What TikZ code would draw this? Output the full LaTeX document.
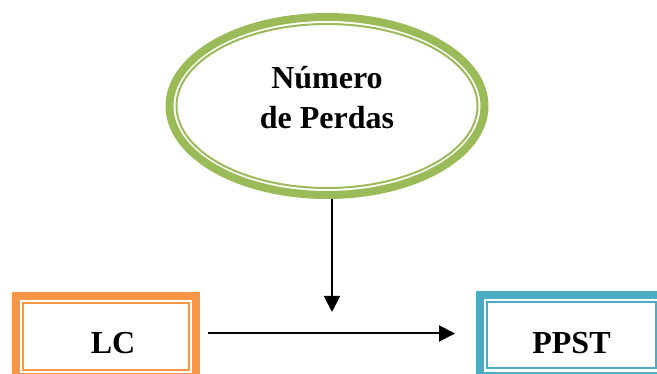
\documentclass[tikz,border=0pt]{standalone}
\usepackage{fontspec}
\setmainfont{Liberation Serif}
\usetikzlibrary{positioning,arrows.meta,shapes.geometric}
\definecolor{perdasgreen}{HTML}{9BBB59}
\definecolor{lcorange}{HTML}{F79646}
\definecolor{ppstblue}{HTML}{4BACC6}

\begin{document}
\begin{tikzpicture}[
      x=1pt,y=-1pt,
      txt/.style={font=\bfseries\fontsize{32}{40}\selectfont,align=center},
      oval/.style={ellipse,draw=perdasgreen,line width=8pt,inner sep=0pt,outer sep=0pt,minimum width=315pt,minimum height=178pt},
      box/.style={rectangle,line width=7.5pt,inner sep=0pt,outer sep=0pt,text height=34pt,text depth=0pt},
      inframe/.style={line width=2pt},
      arr/.style={-{Triangle[length=16pt,width=16pt]},line width=2pt,draw=black}
    ]
    \useasboundingbox (0,0) rectangle (657,374);
    \clip (0,0) rectangle (657,374);

    \node[oval,txt,text depth=17pt] (perdas) at (327,106) {Número\\de Perdas};
    \draw[perdasgreen,inframe] (perdas.center) ellipse [x radius=150.5pt,y radius=82pt];

    \node[box,txt,draw=lcorange,minimum width=180pt,minimum height=81pt] (lc) at (106,336.5) {\hspace*{14pt}LC};
    \draw[lcorange,inframe] ([shift={(7pt,-7pt)}]lc.north west) rectangle ([shift={(-7pt,7pt)}]lc.south east);

    \node[box,txt,draw=ppstblue,minimum width=183pt,minimum height=80.5pt,text height=36pt] (ppst) at (571.5,335.25) {PPST};
    \draw[ppstblue,inframe] ([shift={(7pt,-7pt)}]ppst.north west) rectangle ([shift={(-7pt,7pt)}]ppst.south east);

    \coordinate (hit) at (332,312);
    \draw[arr,shorten <=4pt] ([xshift=5pt]perdas.south) -- (hit);
    \draw[arr,shorten <=12pt,shorten >=25pt] ([yshift=3pt]lc.east) -- ([yshift=3pt]lc.east -| ppst.west);
  \end{tikzpicture}
\end{document}
